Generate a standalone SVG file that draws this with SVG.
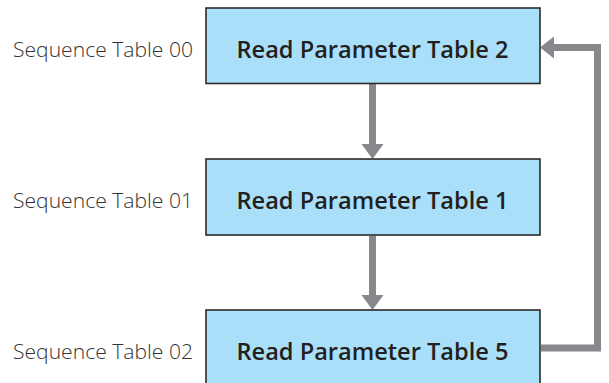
<svg xmlns="http://www.w3.org/2000/svg" width="609" height="383" viewBox="0 0 609 383">
<style>
.box{fill:#A9DFF8;stroke:#2B2B2B;stroke-width:1.6}
.lbl{font-family:"Open Sans","Liberation Sans",sans-serif;font-weight:600;font-size:23px;fill:#231F20;text-anchor:middle}
.side{font-family:"Open Sans","Liberation Sans",sans-serif;font-weight:300;font-size:21px;fill:#333}
.con{fill:none;stroke:#87888B;stroke-width:7}
.head{fill:#87888B}
</style>
<rect width="609" height="383" fill="#fff"/>
<g id="connectors">
<line class="con" x1="372.5" y1="84" x2="372.5" y2="146"/>
<polygon class="head" points="361.5,144 383.5,144 372.5,159"/>
<line class="con" x1="372.5" y1="236" x2="372.5" y2="297"/>
<polygon class="head" points="361.5,295 383.5,295 372.5,310"/>
<polyline class="con" points="541,348 597.5,348 597.5,47.5 552,47.5"/>
<polygon class="head" points="554,36.5 554,58.5 540,47.5"/>
</g>
<g id="node1">
<rect class="box" x="206" y="8" width="334" height="75.5"/>
<text class="lbl" x="372.5" y="58" textLength="272" lengthAdjust="spacingAndGlyphs">Read Parameter Table 2</text>
</g>
<g id="node2">
<rect class="box" x="206" y="159" width="334" height="76"/>
<text class="lbl" x="372.5" y="209" textLength="272" lengthAdjust="spacingAndGlyphs">Read Parameter Table 1</text>
</g>
<g id="node3">
<rect class="box" x="206" y="310" width="334" height="80"/>
<text class="lbl" x="372.5" y="360" textLength="272" lengthAdjust="spacingAndGlyphs">Read Parameter Table 5</text>
</g>
<g id="labels">
<text class="side" x="13" y="57" textLength="180" lengthAdjust="spacingAndGlyphs">Sequence Table 00</text>
<text class="side" x="13" y="208" textLength="180" lengthAdjust="spacingAndGlyphs">Sequence Table 01</text>
<text class="side" x="13" y="359" textLength="180" lengthAdjust="spacingAndGlyphs">Sequence Table 02</text>
</g>
</svg>
